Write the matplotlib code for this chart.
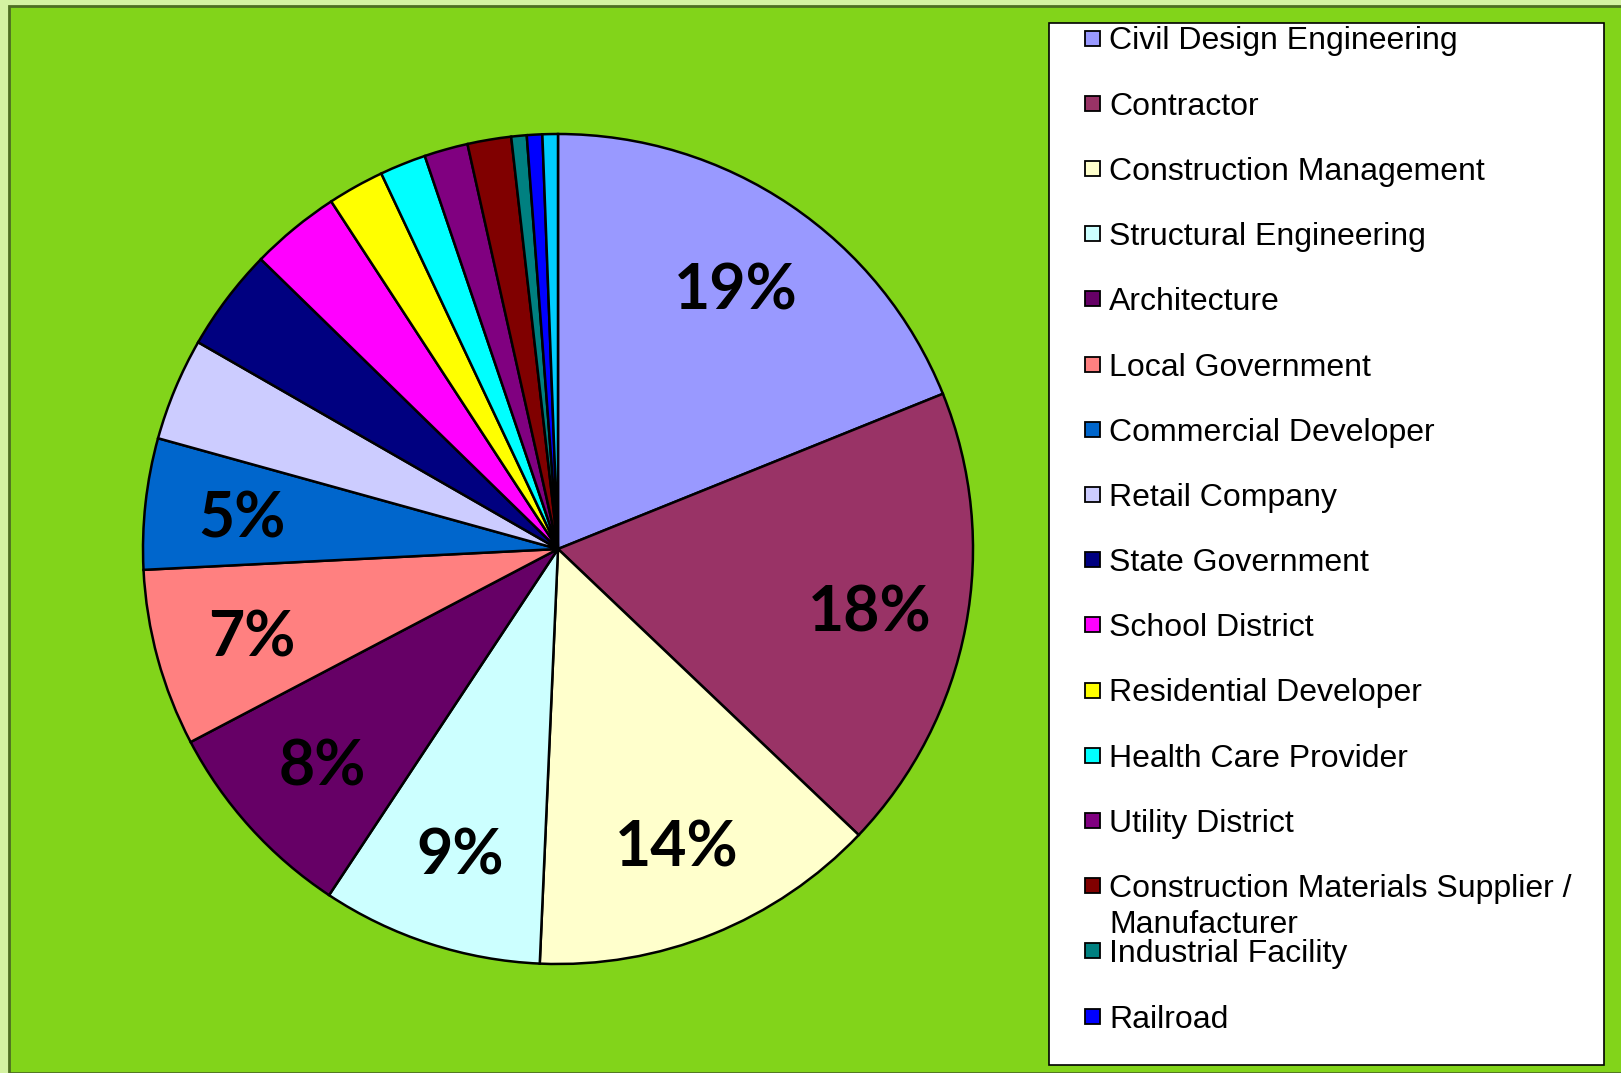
import matplotlib.pyplot as plt
from matplotlib.patches import Rectangle

# customer type shares (percent), clockwise from 12 o'clock
labels = ['Civil Design Engineering', 'Contractor', 'Construction Management',
          'Structural Engineering', 'Architecture', 'Local Government',
          'Commercial Developer', 'Retail Company', 'State Government',
          'School District', 'Residential Developer', 'Health Care Provider',
          'Utility District', 'Construction Materials Supplier /\nManufacturer',
          'Industrial Facility', 'Railroad', 'Other']
shares = [18.9, 18.2, 13.6, 8.6, 8.0, 6.9, 5.1, 4.0, 4.0, 3.5, 2.2, 1.8,
          1.7, 1.7, 0.6, 0.6, 0.6]
colors = ['#9999FF', '#993366', '#FFFFCC', '#CCFFFF', '#660066', '#FF8080',
          '#0066CC', '#CCCCFF', '#000080', '#FF00FF', '#FFFF00', '#00FFFF',
          '#800080', '#800000', '#008080', '#0000FF', '#00CCFF']
n_legend = 16  # last slice is cut off from the legend in the original

W, H = 1621, 1073
fig = plt.figure(figsize=(W / 100, H / 100), dpi=100)
fig.patch.set_facecolor('#D4F2A2')

# green panel with dark edge
fig.patches.append(Rectangle((9 / W, 0), 1, 1 - 6 / H, transform=fig.transFigure,
                             facecolor='#82D41A', edgecolor='#4E6E22', lw=2,
                             zorder=-5))

# pie
cx, cy, r = 558, 549, 415
ax = fig.add_axes([(cx - r) / W, (H - cy - r) / H, 2 * r / W, 2 * r / H])
ax.set_zorder(5)
wedges, texts, autotexts = ax.pie(
    shares, colors=colors, startangle=90, counterclock=False,
    autopct=lambda p: f'{p:.0f}%' if p >= 4.5 else '', pctdistance=0.765,
    wedgeprops=dict(edgecolor='black', linewidth=1.8))
for t in autotexts:
    t.set_fontsize(45)
    t.set_fontweight('bold')
    t.set_family(['Lato', 'DejaVu Sans'])
    t.set_va('center_baseline')
ax.set_xlim(-1, 1)
ax.set_ylim(-1, 1)
ax.set_aspect('equal')
ax.axis('off')
for w in wedges:
    w.set_clip_on(False)

# legend box
lx0, ly0, lx1, ly1 = 1049, 23, 1604, 1065
fig.patches.append(Rectangle((lx0 / W, 1 - ly1 / H), (lx1 - lx0) / W, (ly1 - ly0) / H,
                             transform=fig.transFigure, facecolor='white',
                             edgecolor='black', lw=1.2, zorder=-4))
row0, step, sq = 38, 65.2, 15
for i in range(n_legend):
    y = row0 + i * step
    fig.patches.append(Rectangle((1085 / W, 1 - (y + sq / 2) / H), sq / W, sq / H,
                                 transform=fig.transFigure, facecolor=colors[i],
                                 edgecolor='black', lw=1.3))
    for k, line in enumerate(labels[i].split('\n')):
        fig.text(1109 / W, 1 - (y + k * 36) / H, line, fontsize=23,
                 family='Liberation Sans', va='center_baseline', ha='left')

fig.savefig('out.png', dpi=100, facecolor=fig.get_facecolor())
